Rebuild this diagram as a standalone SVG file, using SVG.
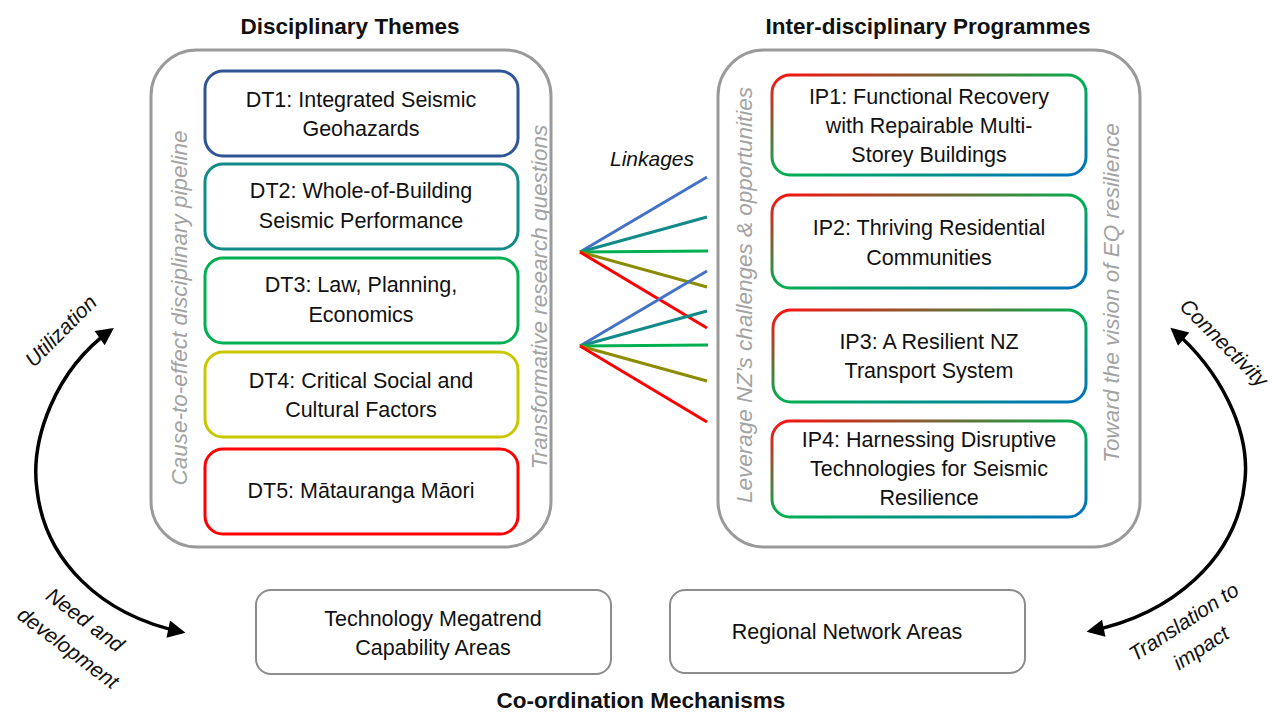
<svg xmlns="http://www.w3.org/2000/svg" width="1277" height="712" viewBox="0 0 1277 712">
<style>
text{font-family:"Liberation Sans",Arial,sans-serif;fill:#111}
.t{font-size:21.5px;text-anchor:middle}
.h{font-size:22.5px;font-weight:bold;text-anchor:middle}
.g{font-size:22.5px;font-style:italic;fill:#a3a3a3;text-anchor:middle}
.i{font-size:21px;font-style:italic;text-anchor:middle}
.cont{fill:none;stroke:#9a9a9a;stroke-width:3}
.dt{fill:#fff;stroke-width:3}
.ip{fill:#fff;stroke:url(#grad);stroke-width:3}
.cm{fill:#fff;stroke:#8c8c8c;stroke-width:2}
.ln{stroke-width:3;fill:none}
.arr{fill:none;stroke:#000;stroke-width:3.5}
</style>
<defs>
<linearGradient id="grad" x1="0" y1="0" x2="1" y2="1">
<stop offset="0" stop-color="#ff1010"/>
<stop offset="0.5" stop-color="#00b050"/>
<stop offset="1" stop-color="#0070c0"/>
</linearGradient>
<marker id="ah" viewBox="0 0 10 10" refX="8" refY="5" markerWidth="6" markerHeight="5" orient="auto-start-reverse" markerUnits="strokeWidth">
<path d="M0,0 L10,5 L0,10 z" fill="#000"/>
</marker>
</defs>
<rect width="1277" height="712" fill="#fff"/>

<g id="titles">
<text class="h" x="350" y="34">Disciplinary Themes</text>
<text class="h" x="928" y="34">Inter-disciplinary Programmes</text>
<text class="h" x="641" y="708">Co-ordination Mechanisms</text>
</g>

<g id="dt-container">
<rect class="cont" x="151" y="50" width="400" height="497" rx="46"/>
<text class="g" transform="translate(180,308) rotate(-90)" y="7">Cause-to-effect disciplinary pipeline</text>
<text class="g" transform="translate(540,297) rotate(-90)" y="7">Transformative research questions</text>
</g>

<g id="dt1"><rect class="dt" x="205" y="71" width="313" height="85" rx="18" stroke="#2f5597"/>
<text class="t" x="361" y="107">DT1: Integrated Seismic</text><text class="t" x="361" y="136">Geohazards</text></g>
<g id="dt2"><rect class="dt" x="205" y="164" width="313" height="85" rx="18" stroke="#138a8a"/>
<text class="t" x="361" y="198">DT2: Whole-of-Building</text><text class="t" x="361" y="228">Seismic Performance</text></g>
<g id="dt3"><rect class="dt" x="205" y="258" width="313" height="85" rx="18" stroke="#00b050"/>
<text class="t" x="361" y="292">DT3: Law, Planning,</text><text class="t" x="361" y="322">Economics</text></g>
<g id="dt4"><rect class="dt" x="205" y="352" width="313" height="85" rx="18" stroke="#c9c800"/>
<text class="t" x="361" y="388">DT4: Critical Social and</text><text class="t" x="361" y="417">Cultural Factors</text></g>
<g id="dt5"><rect class="dt" x="205" y="449" width="313" height="85" rx="18" stroke="#ff0000"/>
<text class="t" x="361" y="498">DT5: Mātauranga Māori</text></g>

<g id="ip-container">
<rect class="cont" x="718" y="50" width="422" height="497" rx="46"/>
<text class="g" transform="translate(745,295) rotate(-90)" y="7">Leverage NZ’s challenges &amp; opportunities</text>
<text class="g" transform="translate(1112,293) rotate(-90)" y="7">Toward the vision of EQ resilience</text>
</g>

<g id="ip1"><rect class="ip" x="772" y="75" width="314" height="100" rx="18"/>
<text class="t" x="929" y="104">IP1: Functional Recovery</text><text class="t" x="929" y="133">with Repairable Multi-</text><text class="t" x="929" y="162">Storey Buildings</text></g>
<g id="ip2"><rect class="ip" x="772" y="195" width="314" height="93" rx="18"/>
<text class="t" x="929" y="235">IP2: Thriving Residential</text><text class="t" x="929" y="265">Communities</text></g>
<g id="ip3"><rect class="ip" x="773" y="310" width="313" height="92" rx="18"/>
<text class="t" x="929" y="349">IP3: A Resilient NZ</text><text class="t" x="929" y="378">Transport System</text></g>
<g id="ip4"><rect class="ip" x="772" y="421" width="314" height="96" rx="18"/>
<text class="t" x="929" y="447">IP4: Harnessing Disruptive</text><text class="t" x="929" y="476">Technologies for Seismic</text><text class="t" x="929" y="505">Resilience</text></g>

<g id="cm1"><rect class="cm" x="256" y="590" width="355" height="84" rx="15"/>
<text class="t" x="433" y="626">Technology Megatrend</text><text class="t" x="433" y="655">Capability Areas</text></g>
<g id="cm2"><rect class="cm" x="670" y="590" width="355" height="83" rx="15"/>
<text class="t" x="847" y="639">Regional Network Areas</text></g>

<g id="connectors">
<text class="i" x="652" y="166">Linkages</text>
<line class="ln" x1="580" y1="252" x2="707" y2="177" stroke="#4472c4"/>
<line class="ln" x1="580" y1="252" x2="707" y2="217" stroke="#138a8a"/>
<line class="ln" x1="580" y1="252" x2="708" y2="251" stroke="#00b050"/>
<line class="ln" x1="580" y1="252" x2="707" y2="287" stroke="#8c8c00"/>
<line class="ln" x1="580" y1="252" x2="707" y2="328" stroke="#ff0000"/>
<line class="ln" x1="580" y1="346" x2="707" y2="271" stroke="#4472c4"/>
<line class="ln" x1="580" y1="346" x2="707" y2="311" stroke="#138a8a"/>
<line class="ln" x1="580" y1="346" x2="708" y2="345" stroke="#00b050"/>
<line class="ln" x1="580" y1="346" x2="707" y2="381" stroke="#8c8c00"/>
<line class="ln" x1="580" y1="346" x2="707" y2="422" stroke="#ff0000"/>

<path class="arr" d="M111,330 C55,370 30,440 37,490 C45,560 100,615 182,632" marker-start="url(#ah)" marker-end="url(#ah)"/>
<path class="arr" d="M1173,330 C1220,370 1250,430 1245,480 C1238,560 1170,615 1090,631" marker-start="url(#ah)" marker-end="url(#ah)"/>
<text class="i" transform="translate(61,331) rotate(-45)" y="7">Utilization</text>
<text class="i" transform="translate(85,620) rotate(37)" y="7">Need and</text>
<text class="i" transform="translate(68,648) rotate(37)" y="7">development</text>
<text class="i" transform="translate(1224,343) rotate(45)" y="7">Connectivity</text>
<text class="i" transform="translate(1184,622) rotate(-33)" y="7">Translation to</text>
<text class="i" transform="translate(1201,648) rotate(-33)" y="7">impact</text>
</g>
</svg>
